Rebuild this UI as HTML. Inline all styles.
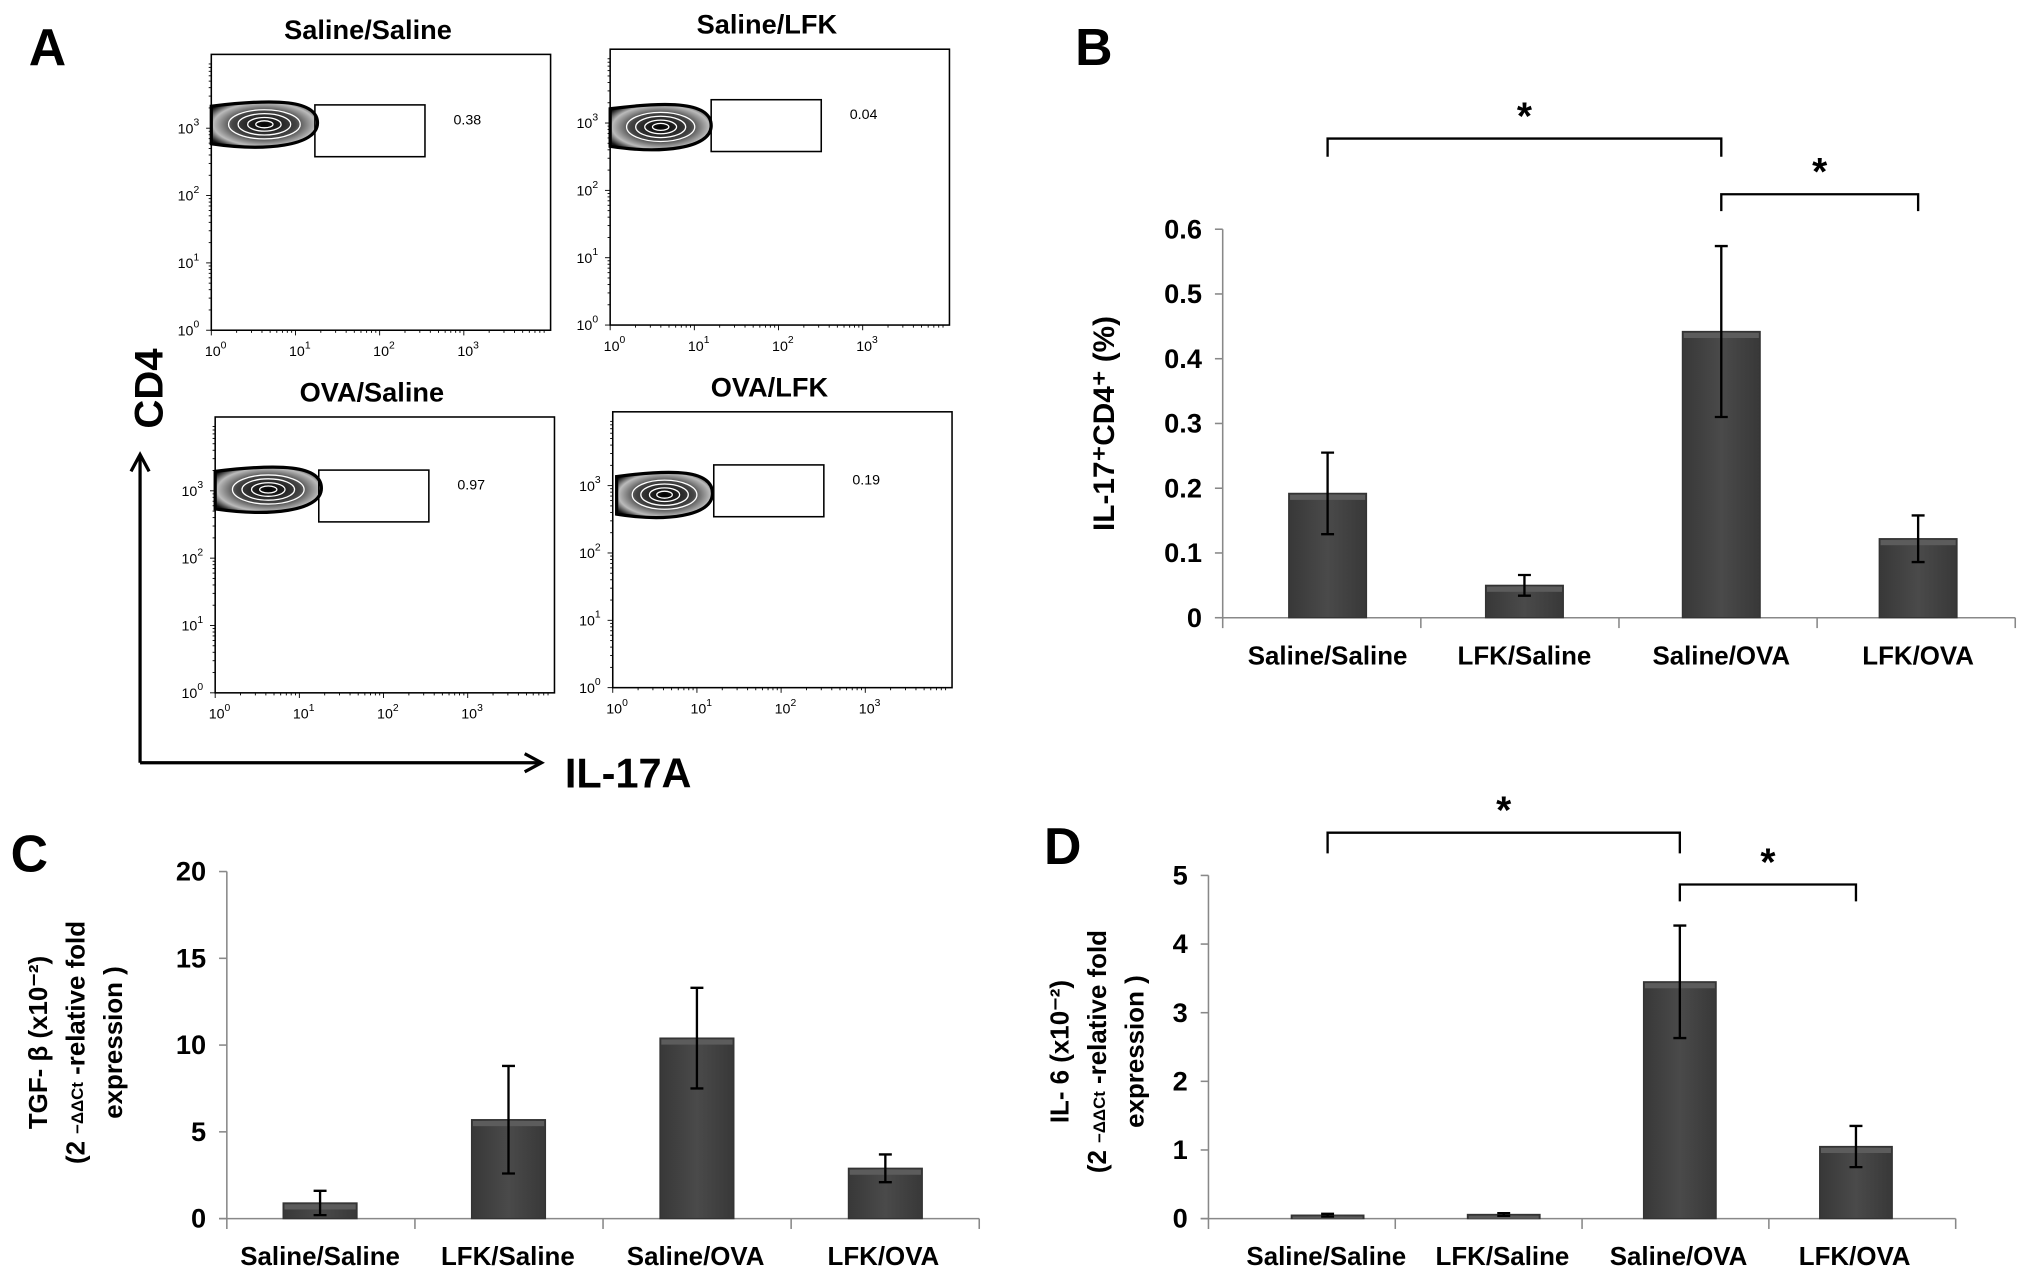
<!DOCTYPE html>
<html><head><meta charset="utf-8">
<style>
html,body{margin:0;padding:0;background:#fff;}
svg{display:block;}
text{font-family:"Liberation Sans Narrow","Liberation Sans",sans-serif;font-weight:bold;fill:#000;}
.ar{font-family:"Liberation Sans",sans-serif;}
.fc{font-family:"Liberation Sans",sans-serif;font-weight:normal;font-size:11px;}
</style></head>
<body>
<svg id="fig" width="2031" height="1273" viewBox="0 0 1568 983" xmlns="http://www.w3.org/2000/svg">
<defs>
<linearGradient id="barg" x1="0" x2="1" y1="0" y2="0">
<stop offset="0" stop-color="#383838"/><stop offset="0.5" stop-color="#4a4a4a"/><stop offset="1" stop-color="#383838"/>
</linearGradient>
<radialGradient id="blob" cx="0.5" cy="0.5" r="0.6">
<stop offset="0" stop-color="#000"/><stop offset="0.5" stop-color="#444"/><stop offset="0.8" stop-color="#bbb"/><stop offset="1" stop-color="#111"/>
</radialGradient>
</defs>
<g id="panelA">
<text class="ar" x="22" y="50" font-size="40">A</text>
<text class="ar" x="117" y="300" font-size="31" text-anchor="middle" transform="rotate(-90 117 300)" dominant-baseline="middle">CD4</text>
<g stroke="#000" stroke-width="2.5" fill="none">
<line x1="108" y1="589" x2="108" y2="352"/><polyline points="101,364 108,351 115,364"/>
<line x1="108" y1="589" x2="417" y2="589"/><polyline points="405,582 418,589 405,596"/>
</g>
<text class="ar" x="436" y="608" font-size="32">IL-17A</text>
</g>
<g id="flows"></g>
<g id="panelB">
<text class="ar" x="830" y="50" font-size="40">B</text>
<text class="ar" x="860" y="327" font-size="23" text-anchor="middle" transform="rotate(-90 860 327)">IL-17⁺CD4⁺ (%)</text>
</g>
<g id="panelC">
<text class="ar" x="8" y="673" font-size="40">C</text>
<g font-size="20" text-anchor="middle">
<text class="ar" x="36" y="805" transform="rotate(-90 36 805)">TGF- β (x10⁻²)</text>
<text class="ar" x="65" y="805" transform="rotate(-90 65 805)">(2 <tspan font-size="13" dy="-1">−ΔΔCt</tspan><tspan dy="1">  -relative fold</tspan></text>
<text class="ar" x="94" y="805" transform="rotate(-90 94 805)">expression )</text>
</g>
</g>
<g id="panelD">
<text class="ar" x="806" y="667" font-size="40">D</text>
<g font-size="20" text-anchor="middle">
<text class="ar" x="825" y="812" transform="rotate(-90 825 812)">IL- 6  (x10⁻²)</text>
<text class="ar" x="854" y="812" transform="rotate(-90 854 812)">(2 <tspan font-size="13" dy="-1">−ΔΔCt</tspan><tspan dy="1">  -relative fold</tspan></text>
<text class="ar" x="883" y="812" transform="rotate(-90 883 812)">expression )</text>
</g>
</g>
</svg>
<script>
const NS = "http://www.w3.org/2000/svg";
// ---- data ----
const categories = ["Saline/Saline", "LFK/Saline", "Saline/OVA", "LFK/OVA"];
const il17Values = [0.192, 0.05, 0.442, 0.122];
const il17Errors = [0.063, 0.016, 0.132, 0.036];
const il17Ticks = [0, 0.1, 0.2, 0.3, 0.4, 0.5, 0.6];
const tgfValues = [0.9, 5.7, 10.4, 2.9];
const tgfErrors = [0.7, 3.1, 2.9, 0.8];
const tgfTicks = [0, 5, 10, 15, 20];
const il6Values = [0.05, 0.06, 3.45, 1.05];
const il6Errors = [0.02, 0.02, 0.82, 0.3];
const il6Ticks = [0, 1, 2, 3, 4, 5];
const flowTitles = ["Saline/Saline", "Saline/LFK", "OVA/Saline", "OVA/LFK"];
const flowGatePercents = ["0.38", "0.04", "0.97", "0.19"];
const flowDecadeLabels = ["0", "1", "2", "3"];

function el(tag, attrs, parent) {
  const e = document.createElementNS(NS, tag);
  for (const k in attrs) e.setAttribute(k, attrs[k]);
  parent.appendChild(e);
  return e;
}

function barChart(parent, o, values, errors, ticks, prefix) {
  const yMax = ticks[ticks.length - 1];
  const yS = v => o.y0 - (v / yMax) * (o.y0 - o.yTop);
  const xS = i => o.cx0 + i * o.step;
  const ax = el("line", {x1: o.x0, y1: o.yTop, x2: o.x0, y2: o.y0 + 8, stroke: "#888", "stroke-width": 1.2}, parent);
  
  
  const bx = el("line", {x1: o.x0 - 6, y1: o.y0, x2: o.x1, y2: o.y0, stroke: "#888", "stroke-width": 1.2}, parent);
  
  
  for (let k = 1; k <= categories.length; k++) {
    const tx = o.x0 + k * (o.x1 - o.x0) / categories.length;
    el("line", {x1: tx, y1: o.y0, x2: tx, y2: o.y0 + 8, stroke: "#888", "stroke-width": 1.2}, parent);
  }
  ticks.forEach(t => {
    el("line", {x1: o.x0 - 6, y1: yS(t), x2: o.x0, y2: yS(t), stroke: "#888", "stroke-width": 1.2}, parent);
    const tl = el("text", {x: o.x0 - 16, y: yS(t) + 7, "font-size": 21, "text-anchor": "end"}, parent);
    tl.textContent = String(t);
    
    
  });
  values.forEach((v, i) => {
    const cx = xS(i);
    const r = el("rect", {x: cx - o.bw / 2, y: yS(v), width: o.bw, height: o.y0 - yS(v), fill: "url(#barg)", stroke: "#333", "stroke-width": 1}, parent);
    
    
    el("rect", {x: cx - o.bw / 2 + 1, y: yS(v) + 1, width: o.bw - 2, height: Math.min(4, Math.max(0, o.y0 - yS(v) - 1)), fill: "#5c5c5c"}, parent);
    const hi = yS(v + errors[i]), lo = yS(v - errors[i]);
    const eb = el("path", {d: `M${cx},${hi}V${lo}M${cx - 5},${hi}H${cx + 5}M${cx - 5},${lo}H${cx + 5}`, stroke: "#000", "stroke-width": 1.8, fill: "none"}, parent);
    
    
    const cl = el("text", {x: o.lx0 + i * o.lstep, y: o.ly, "font-size": 20, "text-anchor": "middle"}, parent);
    cl.textContent = categories[i];
    
    
  });
  (o.brackets || []).forEach(b => {
    const x1 = xS(b.a), x2 = xS(b.b);
    const p = el("path", {d: `M${x1},${b.y + b.h}V${b.y}H${x2}V${b.y + b.h}`, stroke: "#000", "stroke-width": 1.8, fill: "none"}, parent);
    
    
    const s = el("text", {x: (x1 + x2) / 2 + b.dx, y: b.y - 7, "font-size": 30, "text-anchor": "middle", class: "ar"}, parent);
    s.textContent = "*";
    
    
  });
}

barChart(document.getElementById("panelB"),
  {x0: 944, x1: 1556, y0: 477, yTop: 177, cx0: 1025, step: 152, bw: 60, lx0: 1025, lstep: 152, ly: 513,
   brackets: [{a: 0, b: 2, y: 107, h: 14, dx: 0}, {a: 2, b: 3, y: 150, h: 13, dx: 0}]},
  il17Values, il17Errors, il17Ticks, "b");
barChart(document.getElementById("panelC"),
  {x0: 175, x1: 756, y0: 941, yTop: 673, cx0: 247, step: 145.5, bw: 57, lx0: 247, lstep: 145, ly: 977},
  tgfValues, tgfErrors, tgfTicks, "c");
barChart(document.getElementById("panelD"),
  {x0: 933, x1: 1510, y0: 941, yTop: 676, cx0: 1025, step: 136, bw: 56, lx0: 1024, lstep: 136, ly: 977,
   brackets: [{a: 0, b: 2, y: 643, h: 16, dx: 0}, {a: 2, b: 3, y: 683, h: 13, dx: 0}]},
  il6Values, il6Errors, il6Ticks, "d");

// ---- flow plots ----
const flows = document.getElementById("flows");
const flowBoxes = [[163, 42], [471, 38], [166, 322], [473, 318]];
const flowGates = [[243, 81], [549, 77], [246, 363], [551, 359]];
const flowBlobs = [[163, 97, 82], [471, 99, 78], [166, 379, 82], [476, 383, 74]];
flowTitles.forEach((t, i) => {
  const g = el("g", {}, flows);
  
  
  const [bx, by] = flowBoxes[i];
  const W = 262, H = 213;
  const tt = el("text", {x: bx + W / 2 - 10, y: by - 12, "font-size": 21, "text-anchor": "middle"}, g);
  tt.textContent = t;
  
  
  el("rect", {x: bx, y: by, width: W, height: H, fill: "none", stroke: "#000", "stroke-width": 1.2}, g);
  const [blx, bly, blw] = flowBlobs[i];
  const bb = el("path", {d: `M${blx},${bly - 15} C${blx + blw * 0.6},${bly - 21} ${blx + blw},${bly - 20} ${blx + blw},${bly - 2} C${blx + blw},${bly + 16} ${blx + blw * 0.5},${bly + 20} ${blx},${bly + 14}Z`, fill: "url(#blob)", stroke: "#000", "stroke-width": 2.5}, g);
  
  
  [0.75, 0.55, 0.35, 0.18].forEach(s => {
    el("ellipse", {cx: blx + blw * 0.5, cy: bly - 1, rx: blw * 0.45 * s, ry: 15 * s, fill: "none", stroke: "#fff", "stroke-width": 1}, g);
  });
  const [gx, gy] = flowGates[i];
  const gr = el("rect", {x: gx, y: gy, width: 85, height: 40, fill: "none", stroke: "#000", "stroke-width": 1.2}, g);
  
  
  const gp = el("text", {x: gx + 107, y: gy + 15, class: "fc"}, g);
  gp.textContent = flowGatePercents[i];
  
  
  const dec = 65;
  flowDecadeLabels.forEach((d, k) => {
    const xl = el("text", {x: bx + k * dec - 5, y: by + H + 20, class: "fc"}, g);
    xl.innerHTML = '10<tspan font-size="8" dy="-6">' + d + '</tspan>';
    
    
    const yy = by + H - k * 52;
    const yl = el("text", {x: bx - 26, y: yy + 4, class: "fc"}, g);
    yl.innerHTML = '10<tspan font-size="8" dy="-6">' + d + '</tspan>';
    
    
    for (let m = 1; m < 10; m++) {
      const off = Math.log10(m) * dec;
      const xt = bx + k * dec + off;
      if (xt < bx + W) el("line", {x1: xt, y1: by + H, x2: xt, y2: by + H + (m === 1 ? 4 : 2), stroke: "#000", "stroke-width": 0.7}, g);
      const yt = yy - Math.log10(m) * 52;
      if (yt > by) el("line", {x1: bx, y1: yt, x2: bx - (m === 1 ? 4 : 2), y2: yt, stroke: "#000", "stroke-width": 0.7}, g);
    }
  });
});
</script>
</body></html>
